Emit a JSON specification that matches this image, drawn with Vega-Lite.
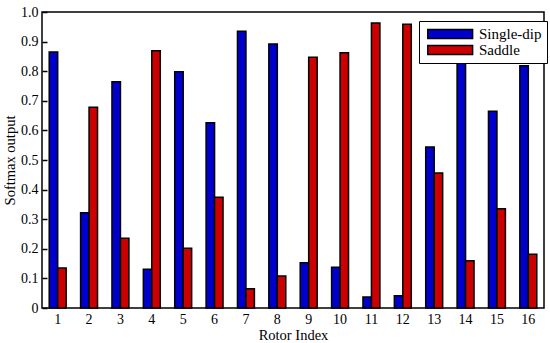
{
  "$schema": "https://vega.github.io/schema/vega-lite/v6.json",
  "autosize": {"type": "none"},
  "padding": {"left": 42, "top": 12, "right": 6, "bottom": 35},
  "width": 502,
  "height": 296,
  "background": "white",
  "config": {
    "font": "Liberation Serif",
    "view": {"stroke": "black", "strokeWidth": 1.5},
    "axis": {"labelFont": "Liberation Serif", "titleFont": "Liberation Serif", "labelColor": "black", "titleColor": "black", "domainColor": "black", "tickColor": "black", "titleFontWeight": "normal", "grid": false},
    "legend": {"labelFont": "Liberation Serif"}
  },
  "data": {
    "values": [
      {"rotor": 1, "type": "Single-dip", "value": 0.865}, {"rotor": 1, "type": "Saddle", "value": 0.135},
      {"rotor": 2, "type": "Single-dip", "value": 0.322}, {"rotor": 2, "type": "Saddle", "value": 0.678},
      {"rotor": 3, "type": "Single-dip", "value": 0.764}, {"rotor": 3, "type": "Saddle", "value": 0.236},
      {"rotor": 4, "type": "Single-dip", "value": 0.131}, {"rotor": 4, "type": "Saddle", "value": 0.869},
      {"rotor": 5, "type": "Single-dip", "value": 0.798}, {"rotor": 5, "type": "Saddle", "value": 0.202},
      {"rotor": 6, "type": "Single-dip", "value": 0.626}, {"rotor": 6, "type": "Saddle", "value": 0.374},
      {"rotor": 7, "type": "Single-dip", "value": 0.935}, {"rotor": 7, "type": "Saddle", "value": 0.065},
      {"rotor": 8, "type": "Single-dip", "value": 0.892}, {"rotor": 8, "type": "Saddle", "value": 0.108},
      {"rotor": 9, "type": "Single-dip", "value": 0.153}, {"rotor": 9, "type": "Saddle", "value": 0.847},
      {"rotor": 10, "type": "Single-dip", "value": 0.138}, {"rotor": 10, "type": "Saddle", "value": 0.862},
      {"rotor": 11, "type": "Single-dip", "value": 0.037}, {"rotor": 11, "type": "Saddle", "value": 0.963},
      {"rotor": 12, "type": "Single-dip", "value": 0.041}, {"rotor": 12, "type": "Saddle", "value": 0.959},
      {"rotor": 13, "type": "Single-dip", "value": 0.544}, {"rotor": 13, "type": "Saddle", "value": 0.456},
      {"rotor": 14, "type": "Single-dip", "value": 0.840}, {"rotor": 14, "type": "Saddle", "value": 0.160},
      {"rotor": 15, "type": "Single-dip", "value": 0.665}, {"rotor": 15, "type": "Saddle", "value": 0.335},
      {"rotor": 16, "type": "Single-dip", "value": 0.818}, {"rotor": 16, "type": "Saddle", "value": 0.182}
    ]
  },
  "mark": {"type": "bar", "stroke": "black", "strokeWidth": 1.5},
  "encoding": {
    "x": {
      "field": "rotor", "type": "ordinal", "title": "Rotor Index",
      "scale": {"paddingInner": 0.46, "paddingOuter": 0.23},
      "axis": {"labelAngle": 0, "labelFontSize": 14, "titleFontSize": 14.5, "ticks": false, "labelPadding": 4, "titlePadding": 2, "domain": false}
    },
    "y": {
      "field": "value", "type": "quantitative", "title": "Softmax output",
      "scale": {"domain": [0, 1], "nice": false},
      "axis": {"values": [0, 0.1, 0.2, 0.3, 0.4, 0.5, 0.6, 0.7, 0.8, 0.9, 1.0], "labelExpr": "datum.value == 0 ? '0' : format(datum.value, '.1f')", "labelFontSize": 14, "titleFontSize": 14.5, "tickSize": -5, "tickWidth": 1.5, "labelPadding": 9, "titlePadding": 3, "domain": false}
    },
    "xOffset": {"field": "type", "type": "nominal", "sort": ["Single-dip", "Saddle"], "scale": {"domain": ["Single-dip", "Saddle"], "paddingInner": 0, "paddingOuter": 0}},
    "color": {
      "field": "type", "type": "nominal",
      "scale": {"domain": ["Single-dip", "Saddle"], "range": ["#0000cc", "#cc0000"]},
      "legend": {"orient": "none", "legendX": 377, "legendY": 9, "title": null, "strokeColor": "black", "fillColor": "white", "padding": 5, "symbolType": "M-0.6,-0.64h6.4v1.28h-6.4z", "symbolSize": 196, "symbolStrokeColor": "black", "symbolStrokeWidth": 1.5, "symbolOpacity": 1, "labelFontSize": 15, "labelColor": "black", "labelOffset": 39, "rowPadding": 0}
    }
  }
}
